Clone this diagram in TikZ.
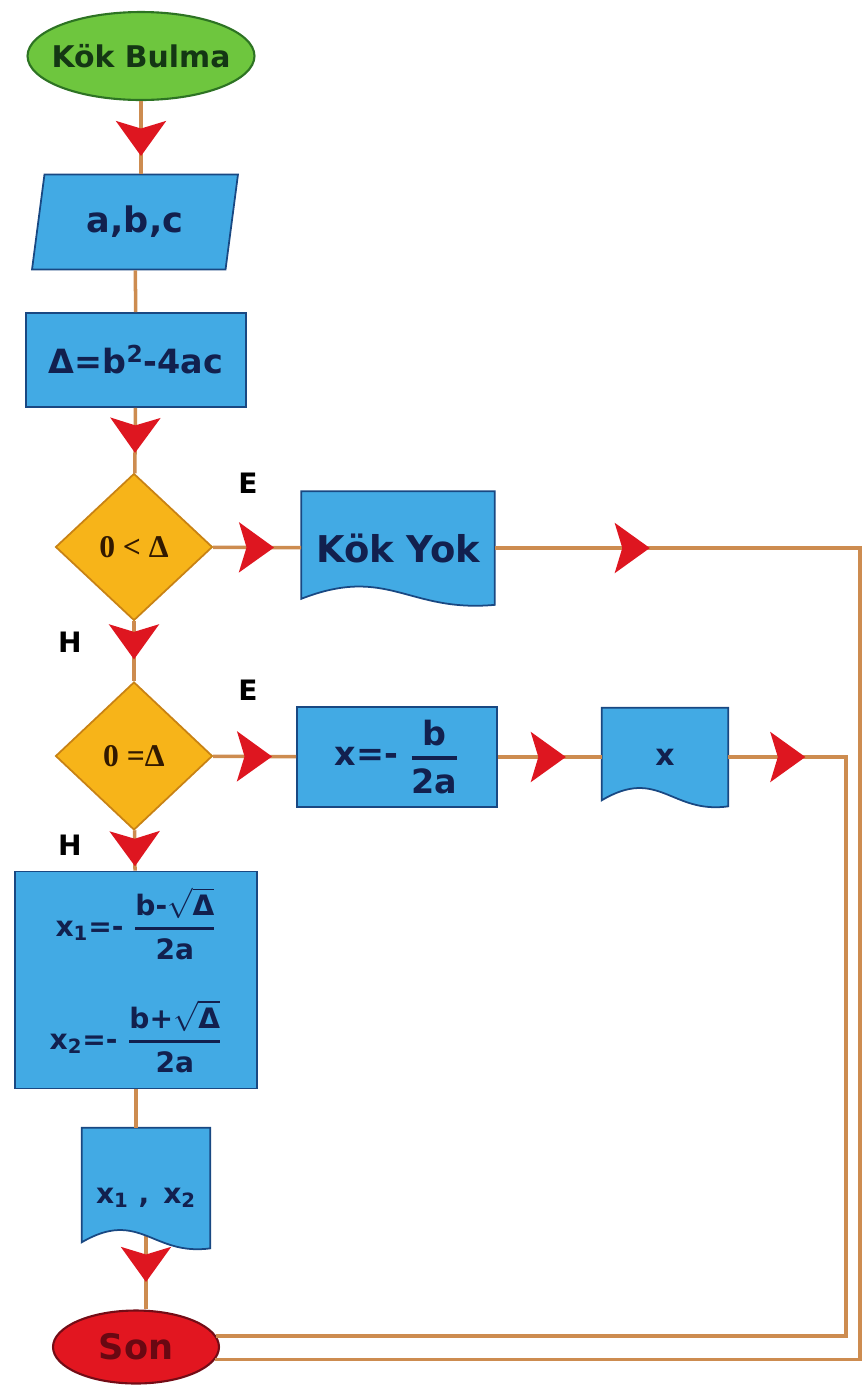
\documentclass[tikz,border=0pt]{standalone}
\usepackage{fontspec}
\usepackage{amsmath}
\usepackage{xcolor}
\usepackage{tikz}
\usetikzlibrary{shapes.geometric, arrows.meta, calc, decorations.markings, backgrounds}
\setmainfont{DejaVu Sans}
\newfontfamily\decfont{Liberation Serif}
\definecolor{termgreen}{RGB}{110,198,62}
\definecolor{termgreenedge}{RGB}{45,115,35}
\definecolor{termgreentext}{RGB}{20,55,20}
\definecolor{termred}{RGB}{226,22,32}
\definecolor{termrededge}{RGB}{115,12,22}
\definecolor{termredtext}{RGB}{105,8,18}
\definecolor{boxblue}{RGB}{66,170,228}
\definecolor{boxedge}{RGB}{25,72,130}
\definecolor{boxtext}{RGB}{18,32,78}
\definecolor{decamber}{RGB}{247,180,25}
\definecolor{decedge}{RGB}{200,130,20}
\definecolor{dectext}{RGB}{50,25,0}
\definecolor{linetan}{RGB}{205,140,80}
\definecolor{tipred}{RGB}{222,22,32}
\tikzset{
  startterm/.style={ellipse, draw=termgreenedge, fill=termgreen, line width=1.2pt,
    inner xsep=-12pt, inner ysep=0pt,
    minimum width=4.54cm, minimum height=1.76cm, text=termgreentext,
    font=\bfseries\fontsize{17}{19}\selectfont},
  endterm/.style={ellipse, draw=termrededge, fill=termred, line width=1.2pt,
    minimum width=3.32cm, minimum height=1.46cm, text=termredtext,
    font=\bfseries\fontsize{20}{22}\selectfont},
  iobox/.style={trapezium, trapezium left angle=74, trapezium right angle=106,
    trapezium stretches body, draw=boxedge, fill=boxblue, line width=1pt,
    minimum width=4.12cm, minimum height=1.9cm, text=boxtext,
    font=\bfseries\fontsize{20}{22}\selectfont},
  procbox/.style={rectangle, draw=boxedge, fill=boxblue, line width=1pt,
    text=boxtext, font=\bfseries\fontsize{16}{18}\selectfont, align=center},
  decision/.style={diamond, draw=decedge, fill=decamber, line width=1pt,
    minimum width=3.14cm, minimum height=2.94cm, inner sep=0pt, text=dectext,
    font=\decfont\bfseries\fontsize{18}{20}\selectfont},
  docbox/.style={rectangle, inner sep=0pt, text=boxtext,
    font=\bfseries\fontsize{17}{19}\selectfont},
  docfill/.style={draw=boxedge, fill=boxblue, line width=1pt},
  lbl/.style={font=\bfseries\fontsize{16}{18}\selectfont, text=black},
  flowline/.style={draw=linetan, line width=2pt},
  redtip/.tip={Stealth[length=0.7cm, width=1.0cm, inset=0.15cm, color=tipred]},
  flowmark/.style={postaction={decorate, decoration={markings,
    mark=at position #1 with {\arrow{redtip}}}}}
}
\newcommand{\docwave}[1]{%
  \filldraw[docfill] (#1.north west) -- (#1.north east) -- (#1.south east)
    .. controls ($(#1.south east)!0.45!(#1.south west)+(0,8)$)
    and ($(#1.south west)!0.45!(#1.south east)+(0,-40)$)
    .. ($(#1.south west)+(0,-6)$) -- cycle;}

\begin{document}
\begin{tikzpicture}[x=0.02cm, y=-0.02cm]
  \useasboundingbox (0,0) rectangle (863,1387);
  \node[startterm] (start) at (141,56) {Kök Bulma};
  \node[iobox] (abc) at (135,222) {a,b,c};
  \node[procbox, minimum width=4.4cm, minimum height=1.88cm,
    font=\bfseries\fontsize{19}{21}\selectfont] (delta) at (136,360) {Δ=b\textsuperscript{2}-4ac};
  \node[decision] (d1) at (134,547) {0 < Δ};
  \node[docbox, minimum width=3.86cm, minimum height=2.26cm,
    font=\bfseries\fontsize{21}{23}\selectfont] (kokyok) at (398,548) {Kök Yok\\[0pt]\rule{0pt}{12pt}};
  \node[decision, minimum height=2.96cm] (d2) at (134,756) {0 =Δ};
  \node[procbox, minimum width=4.0cm, minimum height=2.0cm,
    font=\bfseries\fontsize{19}{21}\selectfont] (xb) at (397,757)
    {x=- $\genfrac{}{}{1.8pt}{0}{\text{b}}{\text{2a}}$};
  \node[docbox, minimum width=2.52cm, minimum height=1.96cm] (xdoc) at (665,757) {x};
  \node[procbox, minimum width=4.84cm, minimum height=4.34cm,
    font=\bfseries\fontsize{16}{18}\selectfont] (big) at (136,980)
    {x\textsubscript{1}=- $\genfrac{}{}{1.6pt}{0}{\text{b-}\sqrt{\text{Δ}}}{\text{2a}}$\\[22pt]
     x\textsubscript{2}=- $\genfrac{}{}{1.6pt}{0}{\text{b+}\sqrt{\text{Δ}}}{\text{2a}}$};
  \node[docbox, minimum width=2.56cm, minimum height=2.4cm,
    font=\bfseries\fontsize{16}{18}\selectfont] (x12) at (146,1188)
    {x\textsubscript{1} ,\enspace x\textsubscript{2}\\[0pt]\rule{0pt}{20pt}};
  \node[endterm] (son) at (136,1347) {Son};
  \node[lbl] (e1) at (248,483) {E};
  \node[lbl] (h1) at (70,642) {H};
  \node[lbl] (e2) at (248,690) {E};
  \node[lbl] (h2) at (70,845) {H};
  \coordinate (rout) at (860,548);
  \coordinate (rin) at (846,757);
  \draw[flowline, flowmark=1.1cm] (start.south) -- (start.south |- abc.north);
  \draw[flowline] (abc) -- (delta);
  \draw[flowline, flowmark=0.9cm] (delta) -- (d1);
  \draw[flowline, flowmark=0.76cm] (d1) -- (d2);
  \draw[flowline, flowmark=1.22cm] (d1) -- (kokyok);
  \draw[flowline, flowmark=3.1cm] (kokyok.east) -- (rout) |- (son.-9);
  \draw[flowline, flowmark=1.18cm] (d2) -- (xb);
  \draw[flowline, flowmark=1.36cm] (xb) -- (xdoc);
  \draw[flowline, flowmark=1.54cm] (xdoc.east) -- (rin) |- (son.8);
  \draw[flowline, flowmark=0.72cm] (d2) -- (big);
  \draw[flowline] (big.south) -- (big.south |- x12.north);
  \begin{pgfonlayer}{background}
    \draw[flowline, flowmark=1.88cm] (x12.center) -- (x12.center |- son.north);
    \docwave{kokyok}
    \docwave{xdoc}
    \docwave{x12}
  \end{pgfonlayer}
\end{tikzpicture}
\end{document}
